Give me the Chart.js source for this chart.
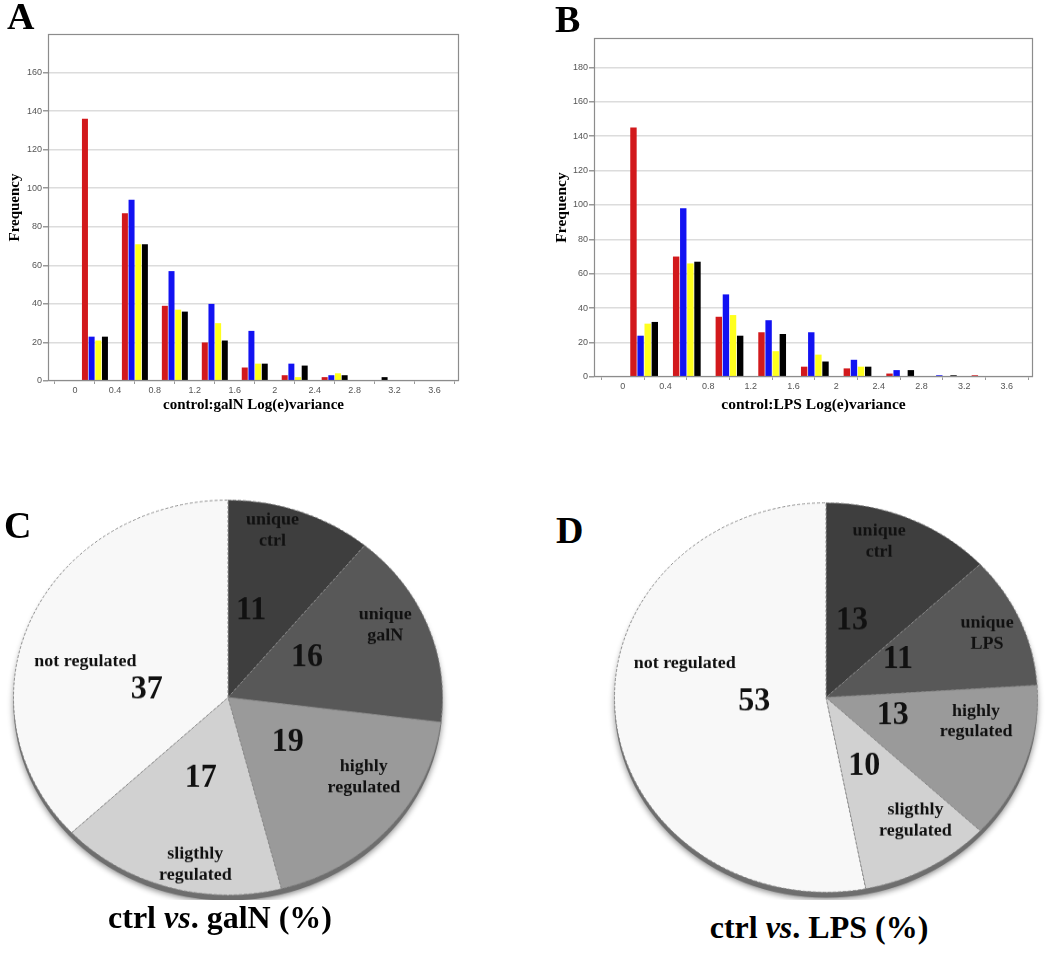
<!DOCTYPE html>
<html>
<head>
<meta charset="utf-8">
<title>Log(e)variance histograms and regulation pies</title>
<script src="https://cdn.jsdelivr.net/npm/chart.js@4.4.0/dist/chart.umd.min.js"></script>
<style>
  body { margin: 0; background: #fff; }
  #page { position: relative; width: 1050px; height: 979px; overflow: hidden; font-family: 'Liberation Serif', 'Times New Roman', serif; }
  .abs { position: absolute; }
  .letter { font-weight: bold; font-size: 38px; line-height: 38px; color: #000; }
  .ptitle { font-weight: bold; font-size: 32px; line-height: 36px; text-align: center; white-space: nowrap; color: #000; }
</style>
</head>
<body>
<div id="page">
  <canvas id="chartA" class="abs" width="470" height="420" style="left:0px;top:0px;width:470px;height:420px"></canvas>
  <canvas id="chartB" class="abs" width="530" height="420" style="left:520px;top:0px;width:530px;height:420px"></canvas>
  <canvas id="chartC" class="abs" width="460" height="440" style="left:0px;top:495px;width:460px;height:405px"></canvas>
  <canvas id="chartD" class="abs" width="450" height="440" style="left:601px;top:495px;width:450px;height:405px"></canvas>

  <div class="abs letter" style="left:7px;top:-3px">A</div>
  <div class="abs letter" style="left:555px;top:0px">B</div>
  <div class="abs letter" style="left:4px;top:506px">C</div>
  <div class="abs letter" style="left:556px;top:511px">D</div>

  <div class="abs ptitle" style="left:0px;top:899px;width:440px">ctrl <i>vs</i>. galN (%)</div>
  <div class="abs ptitle" style="left:619px;top:909px;width:400px">ctrl <i>vs</i>. LPS (%)</div>
</div>

<script>
// centre of each 0.4 wide Log(e)variance bin
const bins = [0.2, 0.6, 1.0, 1.4, 1.8, 2.2, 2.6, 3.0, 3.4]
const xTicks = [0, 0.4, 0.8, 1.2, 1.6, 2, 2.4, 2.8, 3.2, 3.6]
const yTicksA = [0, 20, 40, 60, 80, 100, 120, 140, 160]
const yTicksB = [0, 20, 40, 60, 80, 100, 120, 140, 160, 180]

// A - control:galN
const galnRed    = [136, 87, 39, 20, 7, 3, 2, 0, 0]
const galnBlue   = [23, 94, 57, 40, 26, 9, 3, 0, 0]
const galnYellow = [21, 71, 37, 30, 9, 2, 4, 0, 0]
const galnBlack  = [23, 71, 36, 21, 9, 8, 3, 2, 0]

// B - control:LPS
const lpsRed    = [145, 70, 35, 26, 6, 5, 2, 0, 1]
const lpsBlue   = [24, 98, 48, 33, 26, 10, 4, 1, 0]
const lpsYellow = [31, 66, 36, 15, 13, 6, 0, 0, 0]
const lpsBlack  = [32, 67, 24, 25, 9, 6, 4, 1, 0]

// C / D - share of genes (%)
const pieLabelsC = ['unique\nctrl', 'unique\ngalN', 'highly\nregulated', 'sligthly\nregulated', 'not regulated']
const pieValuesC = [11, 16, 19, 17, 37]
const pieLabelsD = ['unique\nctrl', 'unique\nLPS', 'highly\nregulated', 'sligthly\nregulated', 'not regulated']
const pieValuesD = [13, 11, 13, 10, 53]

const barColors = ['#d2191c', '#1212f2', '#ffff1e', '#000000']
const pieGreys = ['#3e3e3e', '#585858', '#9a9a9a', '#d1d1d1', '#f8f8f8']
const SQUASH = 405 / 440   // pies are drawn a bit flattened

Chart.defaults.font.family = "'Liberation Sans', Arial, sans-serif"
Chart.defaults.animation = false

const boxPlugin = {
    id: 'box',
    afterDatasetsDraw(chart) {
        const {ctx, chartArea: a} = chart
        ctx.save()
        ctx.strokeStyle = '#8c8c8c'
        ctx.lineWidth = 1.2
        ctx.strokeRect(a.left + 0.5, a.top + 0.5, a.width - 1, a.height - 1)
        ctx.restore()
    }
}

function histChart(id, series, o) {
    const ctx = document.getElementById(id).getContext('2d')
    return new Chart(ctx, {
        type: 'bar',
        data: {
            labels: bins,
            datasets: series.map((s, i) => ({
                data: s,
                backgroundColor: barColors[i],
                borderWidth: 0,
                categoryPercentage: 0.667,
                barPercentage: 0.9
            }))
        },
        plugins: [boxPlugin],
        options: {
            responsive: false,
            layout: { padding: { top: o.top, right: o.right, left: o.left, bottom: 0 } },
            scales: {
                x: {
                    type: 'linear',
                    offset: false,
                    min: -0.27,
                    max: 3.845,
                    afterBuildTicks: s => { s.ticks = xTicks.map(v => ({ value: v })) },
                    afterFit: s => { s.height = o.xHeight },
                    border: { display: false },
                    grid: { drawOnChartArea: false, drawTicks: true, tickLength: 3, tickColor: '#999' },
                    ticks: {
                        padding: 1,
                        color: '#555',
                        font: { size: 9 },
                        maxRotation: 0,
                        callback: v => String(+(+v).toFixed(1))
                    },
                    title: {
                        display: true,
                        text: o.xTitle,
                        color: '#000',
                        padding: { top: 6, bottom: 6 },
                        font: { family: "'Liberation Serif', serif", weight: 'bold', size: o.titleSize }
                    }
                },
                y: {
                    min: 0,
                    max: o.yMax,
                    afterBuildTicks: s => { s.ticks = o.yTicks.map(v => ({ value: v })) },
                    afterFit: s => { s.width = o.yWidth },
                    border: { display: false },
                    grid: { color: '#dcdcdc', lineWidth: 1.5, tickColor: '#999', tickLength: 5 },
                    ticks: { padding: 1, color: '#555', font: { size: 9 } },
                    title: {
                        display: true,
                        text: 'Frequency',
                        color: '#000',
                        padding: { top: 6, bottom: 6 },
                        font: { family: "'Liberation Serif', serif", weight: 'bold', size: o.titleSize }
                    }
                }
            },
            plugins: {
                legend: { display: false },
                tooltip: { enabled: false }
            }
        }
    })
}

histChart('chartA', [galnRed, galnBlue, galnYellow, galnBlack], {
    top: 34, right: 11, left: 0, yWidth: 48, xHeight: 39,
    yMax: 180, yTicks: yTicksA, xTitle: 'control:galN Log(e)variance', titleSize: 15
})
histChart('chartB', [lpsRed, lpsBlue, lpsYellow, lpsBlack], {
    top: 38, right: 17, left: 27, yWidth: 47, xHeight: 43,
    yMax: 197, yTicks: yTicksB, xTitle: 'control:LPS Log(e)variance', titleSize: 15.5
})

// text drawn upright even though the canvas is flattened
function putText(ctx, x, y, text, size, lineH) {
    const lines = text.split('\n')
    ctx.save()
    ctx.translate(x, y)
    ctx.scale(1, 1 / SQUASH)
    ctx.font = 'bold ' + size + "px 'Liberation Serif', serif"
    ctx.fillStyle = '#111'
    ctx.textAlign = 'center'
    ctx.textBaseline = 'middle'
    lines.forEach((l, k) => ctx.fillText(l, 0, (k - (lines.length - 1) / 2) * lineH))
    ctx.restore()
}

const pieText = {
    id: 'pieText',
    beforeDatasetsDraw(chart) {
        // dark rim under the pie (3d edge)
        const arc = chart.getDatasetMeta(0).data[0]
        const {x, y, outerRadius} = arc.getProps(['x', 'y', 'outerRadius'], true)
        const ctx = chart.ctx
        ctx.save()
        ctx.shadowColor = 'rgba(0,0,0,0.45)'
        ctx.shadowBlur = 6
        ctx.shadowOffsetY = 2
        ctx.fillStyle = '#6e6e6e'
        ctx.beginPath()
        ctx.arc(x, y + 6, outerRadius, 0, Math.PI * 2)
        ctx.fill()
        ctx.restore()
    },
    afterDatasetsDraw(chart, args, opts) {
        const ctx = chart.ctx
        const names = chart.data.labels
        const vals = chart.data.datasets[0].data
        chart.getDatasetMeta(0).data.forEach((arc, i) => {
            const p = arc.getProps(['x', 'y', 'startAngle', 'endAngle', 'outerRadius'], true)
            const mid = (p.startAngle + p.endAngle) / 2
            const pl = opts.place[i]
            const a1 = mid + pl[0] * Math.PI / 180
            const a2 = mid + pl[2] * Math.PI / 180
            putText(ctx, p.x + Math.cos(a1) * p.outerRadius * pl[1], p.y + Math.sin(a1) * p.outerRadius * pl[1], names[i], 18, 21)
            putText(ctx, p.x + Math.cos(a2) * p.outerRadius * pl[3], p.y + Math.sin(a2) * p.outerRadius * pl[3], String(vals[i]), 32, 32)
        })
    }
}

function pieChart(id, labels, values, pad, place) {
    const ctx = document.getElementById(id).getContext('2d')
    return new Chart(ctx, {
        type: 'pie',
        data: {
            labels: labels,
            datasets: [{
                data: values,
                backgroundColor: pieGreys,
                borderColor: '#8a8a8a',
                borderWidth: 1,
                borderDash: [3, 2]
            }]
        },
        plugins: [pieText],
        options: {
            responsive: false,
            layout: { padding: pad },
            plugins: {
                legend: { display: false },
                tooltip: { enabled: false },
                pieText: { place: place }
            }
        }
    })
}

// [name angle shift (deg), name radius, number angle shift (deg), number radius]
pieChart('chartC', pieLabelsC, pieValuesC, { left: 13, right: 17, top: 5, bottom: 5 }, [
    [-6, 0.87, -6, 0.45],
    [-5, 0.82, -7, 0.42],
    [-9, 0.75, -2, 0.36],
    [-6, 0.86, 1, 0.43],
    [-8, 0.69, -18, 0.38]
])
pieChart('chartD', pieLabelsD, pieValuesD, { left: 13, right: 13, top: 8, bottom: 8 }, [
    [-6, 0.84, -6, 0.41],
    [0, 0.83, -6, 0.39],
    [-10, 0.72, -3, 0.33],
    [-5, 0.76, 2, 0.40],
    [20, 0.69, 1, 0.34]
])
</script>
</body>
</html>
